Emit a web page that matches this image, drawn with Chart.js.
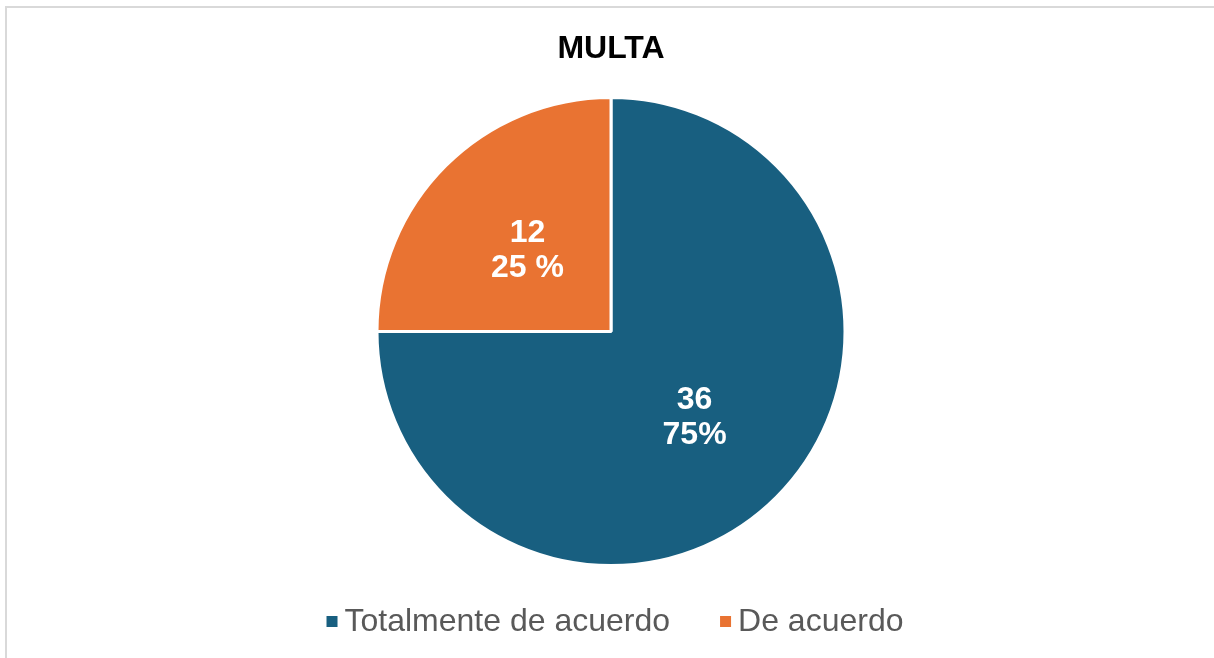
<!DOCTYPE html>
<html>
<head>
<meta charset="utf-8">
<script src="https://cdn.jsdelivr.net/npm/chart.js@4/dist/chart.umd.min.js"></script>
<style>
html,body{margin:0;padding:0;background:#fff;overflow:hidden;width:1214px;height:658px;}
#frame{position:absolute;left:5px;top:6px;width:1220px;height:670px;border-left:2px solid #d9d9d9;border-top:2px solid #d9d9d9;box-sizing:border-box;}
#wrap{position:absolute;left:5px;top:6px;width:1212px;height:652px;}
</style>
</head>
<body>
<div id="frame"></div>
<div id="wrap"><canvas id="c"></canvas></div>
<script>
const categories = ["Totalmente de acuerdo", "De acuerdo"];
const values = [36, 12];
const percentLabels = ["75%", "25 %"];
const colors = ["#185F80", "#E97332"];
const chartTitle = "MULTA";

const FONT = "'Liberation Sans', Arial, sans-serif";

const sliceLabels = {
  id: 'sliceLabels',
  afterDatasetsDraw(chart) {
    const ctx = chart.ctx;
    const meta = chart.getDatasetMeta(0);
    ctx.save();
    ctx.fillStyle = '#ffffff';
    ctx.font = 'bold 32px ' + FONT;
    ctx.textAlign = 'center';
    ctx.textBaseline = 'middle';
    meta.data.forEach((arc, i) => {
      const p = arc.getProps(['x','y','startAngle','endAngle','outerRadius'], true);
      const mid = (p.startAngle + p.endAngle) / 2;
      const r = p.outerRadius * 0.505;
      const cx = p.x + Math.cos(mid) * r;
      const cy = p.y + Math.sin(mid) * r + 2.5;
      ctx.fillText(String(values[i]), cx, cy - 17.5);
      ctx.fillText(percentLabels[i], cx, cy + 17.5);
    });
    ctx.restore();
  }
};

const customLegend = {
  id: 'customLegend',
  afterDraw(chart) {
    const ctx = chart.ctx;
    ctx.save();
    ctx.font = '32px ' + FONT;
    const box = 11, gap = 7, itemGap = 50;
    const widths = categories.map(t => ctx.measureText(t).width);
    let total = 0;
    widths.forEach((w, i) => { total += box + gap + w + (i < widths.length - 1 ? itemGap : 0); });
    const cx = (chart.chartArea.left + chart.chartArea.right) / 2 + 4;
    let x = cx - total / 2;
    const baseY = 625;
    categories.forEach((t, i) => {
      ctx.fillStyle = colors[i];
      ctx.fillRect(x, 610, box, box);
      x += box + gap;
      ctx.fillStyle = '#595959';
      ctx.textBaseline = 'alphabetic';
      ctx.textAlign = 'left';
      ctx.fillText(t, x, baseY);
      x += widths[i] + itemGap;
    });
    ctx.restore();
  }
};

new Chart(document.getElementById('c'), {
  type: 'pie',
  data: {
    labels: categories,
    datasets: [{
      data: values,
      backgroundColor: colors,
      borderColor: '#ffffff',
      borderWidth: 3
    }]
  },
  options: {
    responsive: true,
    maintainAspectRatio: false,
    animation: false,
    layout: { padding: { top: 0, bottom: 91, left: 0, right: 0 } },
    plugins: {
      legend: { display: false },
      tooltip: { enabled: false },
      title: {
        display: true,
        text: chartTitle,
        color: '#000000',
        font: { family: FONT, size: 32, weight: 'bold' },
        padding: { top: 23.8, bottom: 27.8 }
      }
    }
  },
  plugins: [sliceLabels, customLegend]
});
</script>
</body>
</html>
